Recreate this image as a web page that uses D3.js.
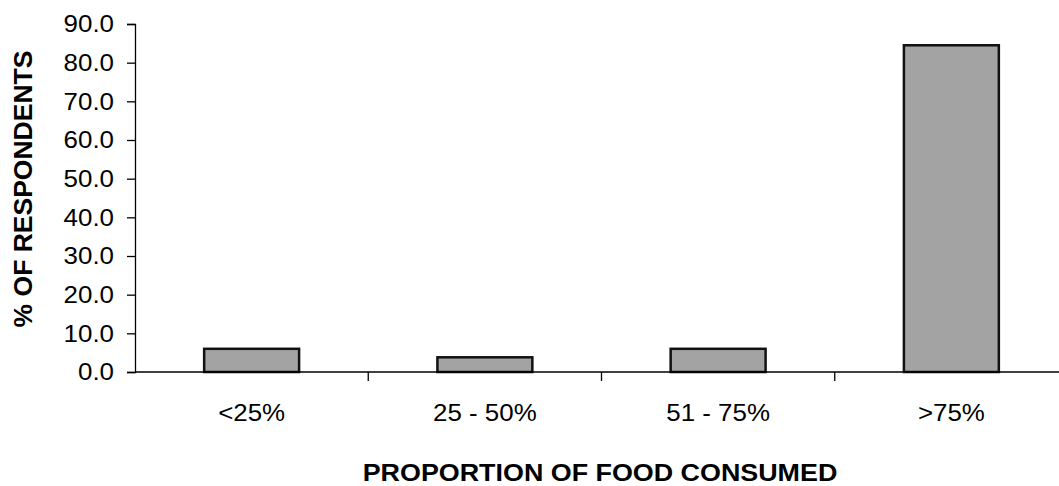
<!DOCTYPE html>
<html>
<head>
<meta charset="utf-8">
<script src="https://cdn.jsdelivr.net/npm/d3@7"></script>
<style>
  html, body { margin: 0; padding: 0; background: #fff; }
  svg { display: block; font-family: "Liberation Sans", Arial, sans-serif; }
</style>
</head>
<body>
<svg id="chart" width="1059" height="486"></svg>
<script>
// Share of respondents by proportion of food consumed
const categories = ["<25%", "25 - 50%", "51 - 75%", ">75%"];
const values = [6.0, 3.8, 6.0, 84.5];
const yTicks = [0, 10, 20, 30, 40, 50, 60, 70, 80, 90];

const svg = d3.select("#chart");

const plot = { left: 135, right: 1068, top: 24, bottom: 372 };
// labels are drawn slightly wide: glyph width grows by this factor
const labelStretch = 1.08;

const x = d3.scaleBand()
  .domain(categories)
  .range([plot.left, plot.right])
  .paddingInner(0.593)
  .paddingOuter(0.2965);

const y = d3.scaleLinear()
  .domain([0, 90])
  .range([plot.bottom, plot.top]);

// Bars
svg.append("g")
  .selectAll("rect")
  .data(values)
  .join("rect")
  .attr("x", (d, i) => x(categories[i]))
  .attr("y", d => y(d))
  .attr("width", x.bandwidth())
  .attr("height", d => y(0) - y(d))
  .attr("fill", "#a3a3a3")
  .attr("stroke", "#111")
  .attr("stroke-width", 2.5);

// Y axis
const yAxis = d3.axisLeft(y)
  .tickValues(yTicks)
  .tickFormat(d3.format(".1f"))
  .tickSize(8);

const gy = svg.append("g")
  .attr("transform", `translate(${plot.left},0)`)
  .call(yAxis);
gy.select(".domain").attr("stroke", "#000").attr("stroke-width", 1.3);
gy.selectAll(".tick line").attr("stroke", "#000").attr("stroke-width", 1.3);
gy.selectAll(".tick text")
  .attr("x", null)
  .attr("transform", `translate(-21,0) scale(${labelStretch},1)`)
  .attr("font-size", "24px")
  .attr("fill", "#000")
  .attr("font-family", "Liberation Sans, Arial, sans-serif");

// X axis line along zero with separators between categories
const bandEdges = categories.map((c, i) => plot.left + (i + 1) * x.step());
svg.append("line")
  .attr("x1", plot.left).attr("x2", plot.right)
  .attr("y1", y(0)).attr("y2", y(0))
  .attr("stroke", "#000").attr("stroke-width", 1.3);
svg.append("g")
  .selectAll("line")
  .data(bandEdges)
  .join("line")
  .attr("x1", d => d).attr("x2", d => d)
  .attr("y1", y(0)).attr("y2", y(0) + 9)
  .attr("stroke", "#000").attr("stroke-width", 1.3);

// Category labels
svg.append("g")
  .selectAll("text")
  .data(categories)
  .join("text")
  .attr("transform", d => `translate(${x(d) + x.bandwidth() / 2},421) scale(${labelStretch},1)`)
  .attr("text-anchor", "middle")
  .attr("font-size", "24px")
  .attr("fill", "#000")
  .text(d => d);

// Axis titles
svg.append("text")
  .attr("transform", "translate(600,481) scale(1.12,1)")
  .attr("text-anchor", "middle")
  .attr("font-size", "24px")
  .attr("font-weight", "bold")
  .attr("fill", "#000")
  .text("PROPORTION OF FOOD CONSUMED");

svg.append("text")
  .attr("transform", "translate(32,189) rotate(-90)")
  .attr("text-anchor", "middle")
  .attr("font-size", "26.5px")
  .attr("font-weight", "bold")
  .attr("fill", "#000")
  .text("% OF RESPONDENTS");
</script>
</body>
</html>
